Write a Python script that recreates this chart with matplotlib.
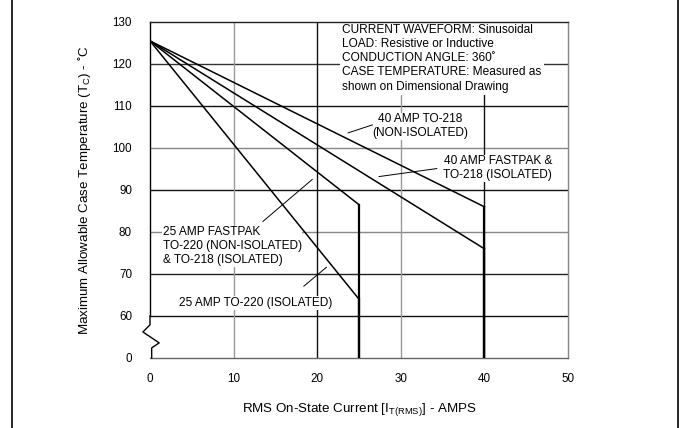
import matplotlib
matplotlib.use("Agg")
import matplotlib.pyplot as plt
from matplotlib.lines import Line2D

plt.rcParams['font.family'] = ['Liberation Sans', 'DejaVu Sans']
plt.rcParams['font.size'] = 8.6

# derating curves: current (A) vs max case temperature (deg C)
# the vertical drop at the rated current goes to the bottom of the broken axis
x_40 = [0, 40, 40]
t_40_nonisolated = [125.5, 86, 50]
t_40_fastpak = [125.5, 76, 50]
x_25 = [0, 25, 25]
t_25_fastpak = [125.5, 86.5, 50]
t_25_to220 = [125.5, 64, 50]

x_ticks = [0, 10, 20, 30, 40, 50]
y_ticks = [50, 60, 70, 80, 90, 100, 110, 120, 130]
y_tick_labels = ["0", "60", "70", "80", "90", "100", "110", "120", "130"]

notes = ("CURRENT WAVEFORM: Sinusoidal\n"
         "LOAD: Resistive or Inductive\n"
         "CONDUCTION ANGLE: 360\u02da\n"
         "CASE TEMPERATURE: Measured as\n"
         "shown on Dimensional Drawing")

# label text, anchor (x, y), alignment, leader line start/end
labels = [
    ("40 AMP TO-218\n(NON-ISOLATED)", (32.3, 105.2), 'center', [(23.7, 103.6), (26.6, 105.5)]),
    ("40 AMP FASTPAK &\nTO-218 (ISOLATED)", (41.6, 95.2), 'center', [(27.4, 93.2), (34.3, 95.1)]),
    ("25 AMP FASTPAK\nTO-220 (NON-ISOLATED)\n& TO-218 (ISOLATED)", (1.5, 76.6), 'left', [(13.5, 82.5), (19.4, 92.5)]),
    ("25 AMP TO-220 (ISOLATED)", (3.5, 63.1), 'left', [(18.4, 67.1), (21.1, 71.6)]),
]

fig = plt.figure(figsize=(6.85, 4.28), dpi=100)
ax = fig.add_axes([150 / 685, 70 / 428, 418 / 685, 336 / 428])
ax.set_xlim(0, 50)
ax.set_ylim(50, 130)

# grid, drawn by hand since the scan mixes dark and light lines
for y, c in [(60, '#111'), (70, '#222'), (80, '#888'), (90, '#111'),
             (100, '#888'), (110, '#111'), (120, '#333')]:
    ax.axhline(y, color=c, lw=1.0, zorder=1)
for x, c in [(10, '#999'), (20, '#111'), (30, '#999'), (40, '#111')]:
    ax.axvline(x, color=c, lw=1.0, zorder=1)

for xs, ys in [(x_40, t_40_nonisolated), (x_40, t_40_fastpak),
               (x_25, t_25_fastpak), (x_25, t_25_to220)]:
    ax.plot(xs[:2], ys[:2], color='black', lw=1.1, zorder=3)
    ax.plot(xs[1:], ys[1:], color='black', lw=1.6, zorder=3)

# white boxes hide the grid behind the text, curves stay on top
ax.text(23.0, 129.6, notes, ha='left', va='top', linespacing=1.25, zorder=2,
        bbox=dict(facecolor='white', edgecolor='none', pad=1.5))

for txt, (tx, ty), ha, leader in labels:
    ax.text(tx, ty, txt, ha=ha, va='center', linespacing=1.2, zorder=2,
            bbox=dict(facecolor='white', edgecolor='none', pad=0.5))
    (x0, y0), (x1, y1) = leader
    ax.plot([x0, x1], [y0, y1], color='black', lw=0.7, zorder=5)

# axis break on the left spine
ax.spines['left'].set_bounds(60, 130)
ax.plot([0, 0, -0.85, 1.1, 0.2, 0.2], [60, 57.9, 56.2, 53.6, 52.4, 50],
        color='black', lw=1.0, clip_on=False, zorder=5)

ax.spines['top'].set_color('#222')
ax.spines['right'].set_color('#888')
ax.spines['bottom'].set_color('#666')
for s in ax.spines.values():
    s.set_linewidth(1.0)

ax.set_xticks(x_ticks)
ax.set_yticks(y_ticks)
ax.set_yticklabels(y_tick_labels)
ax.tick_params(axis='both', length=0, labelsize=8.4)
ax.tick_params(axis='x', pad=11)
ax.tick_params(axis='y', pad=13)

ax.set_xlabel(r"RMS On-State Current [I$_\mathregular{T(RMS)}$] - AMPS", fontsize=9.6)
ax.set_ylabel("Maximum Allowable Case Temperature (T$_\\mathregular{C}$) - \u02daC", fontsize=9.6)
ax.xaxis.set_label_coords(0.5, -0.128)
ax.yaxis.set_label_coords(-0.136, 0.5)

# page frame lines from the datasheet
fig.add_artist(Line2D([12 / 685, 12 / 685], [0, 1], color='black', lw=1.2))
fig.add_artist(Line2D([678 / 685, 678 / 685], [0, 1], color='black', lw=1.2))

fig.savefig("out.png", dpi=100)
